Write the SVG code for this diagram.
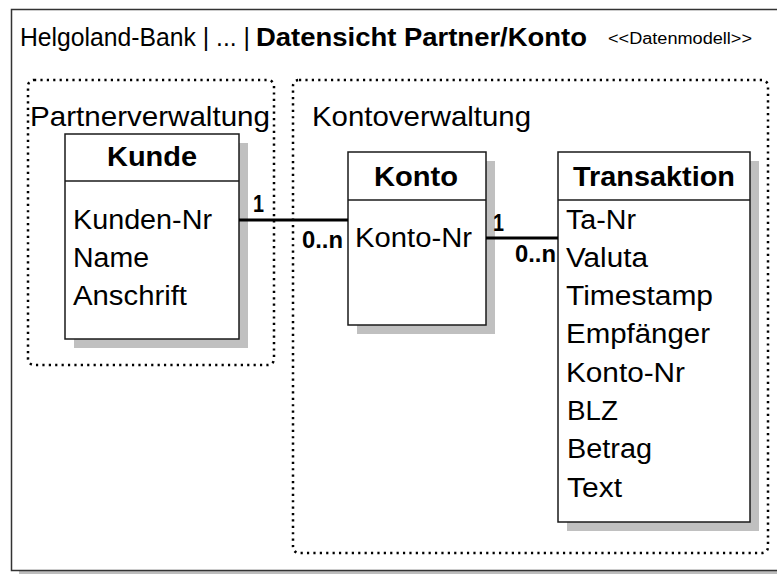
<svg xmlns="http://www.w3.org/2000/svg" width="777" height="574" viewBox="0 0 777 574">
<style>
text{font-family:"Liberation Sans",Arial,sans-serif;fill:#000}
.box{fill:#fff;stroke:#1a1a1a;stroke-width:1.5}
.shadow{fill:#c0c0c0}
.div{stroke:#1a1a1a;stroke-width:1.5}
.group{fill:none;stroke:#000;stroke-width:2.5;stroke-dasharray:2.2 4.2}
.ent{font-size:28px;font-weight:bold}
.attr{font-size:27px}
.card{font-size:23px;font-weight:bold}
.conn{stroke:#000;stroke-width:3}
</style>
<rect x="0" y="0" width="777" height="574" fill="#fff"/>
<g id="frame">
<rect x="19" y="571" width="770" height="4" fill="#bdbdbd"/>
<rect x="11.5" y="9.5" width="800" height="561" fill="#fff" stroke="#333" stroke-width="1.5"/>
<text x="20" y="46" font-size="25" textLength="230" lengthAdjust="spacingAndGlyphs">Helgoland-Bank | ... |</text>
<text x="256" y="46" font-size="26" font-weight="bold" textLength="331" lengthAdjust="spacingAndGlyphs">Datensicht Partner/Konto</text>
<text x="608" y="44" font-size="16" textLength="144" lengthAdjust="spacingAndGlyphs">&lt;&lt;Datenmodell&gt;&gt;</text>
</g>
<g id="partnerverwaltung">
<rect class="group" x="28" y="80" width="246" height="285" rx="6"/>
<text x="30" y="126" font-size="28" textLength="240" lengthAdjust="spacingAndGlyphs">Partnerverwaltung</text>
</g>
<g id="kontoverwaltung">
<rect class="group" x="293" y="80" width="475" height="473" rx="6"/>
<text x="312" y="126" font-size="28" textLength="219" lengthAdjust="spacingAndGlyphs">Kontoverwaltung</text>
</g>
<g id="kunde">
<rect class="shadow" x="74" y="143" width="174" height="205"/>
<rect class="box" x="65" y="134" width="174" height="205"/>
<line class="div" x1="65" y1="181" x2="239" y2="181"/>
<text class="ent" x="107" y="166" textLength="90" lengthAdjust="spacingAndGlyphs">Kunde</text>
<text class="attr" x="73" y="229" textLength="139" lengthAdjust="spacingAndGlyphs">Kunden-Nr</text>
<text class="attr" x="73" y="267" textLength="76" lengthAdjust="spacingAndGlyphs">Name</text>
<text class="attr" x="73" y="305" textLength="114" lengthAdjust="spacingAndGlyphs">Anschrift</text>
</g>
<g id="konto">
<rect class="shadow" x="357" y="161" width="138" height="173"/>
<rect class="box" x="348" y="152" width="138" height="173"/>
<line class="div" x1="348" y1="200" x2="486" y2="200"/>
<text class="ent" x="374" y="186" textLength="84" lengthAdjust="spacingAndGlyphs">Konto</text>
<text class="attr" x="355" y="247" textLength="117" lengthAdjust="spacingAndGlyphs">Konto-Nr</text>
</g>
<g id="transaktion">
<rect class="shadow" x="567" y="161" width="192" height="370"/>
<rect class="box" x="558" y="152" width="192" height="370"/>
<line class="div" x1="558" y1="200" x2="750" y2="200"/>
<text class="ent" x="573" y="186" textLength="162" lengthAdjust="spacingAndGlyphs">Transaktion</text>
<text class="attr" x="566" y="229" textLength="70" lengthAdjust="spacingAndGlyphs">Ta-Nr</text>
<text class="attr" x="566" y="267" textLength="82" lengthAdjust="spacingAndGlyphs">Valuta</text>
<text class="attr" x="566" y="305" textLength="147" lengthAdjust="spacingAndGlyphs">Timestamp</text>
<text class="attr" x="566" y="343" textLength="144" lengthAdjust="spacingAndGlyphs">Empfänger</text>
<text class="attr" x="566" y="382" textLength="119" lengthAdjust="spacingAndGlyphs">Konto-Nr</text>
<text class="attr" x="567" y="420" textLength="51" lengthAdjust="spacingAndGlyphs">BLZ</text>
<text class="attr" x="567" y="458" textLength="85" lengthAdjust="spacingAndGlyphs">Betrag</text>
<text class="attr" x="567" y="497" textLength="55" lengthAdjust="spacingAndGlyphs">Text</text>
</g>
<g id="connectors">
<line class="conn" x1="239" y1="220" x2="348" y2="220"/>
<text class="card" x="253" y="212" textLength="11" lengthAdjust="spacingAndGlyphs">1</text>
<text class="card" x="302" y="248" textLength="41" lengthAdjust="spacingAndGlyphs">0..n</text>
<line class="conn" x1="486" y1="238" x2="558" y2="238"/>
<text class="card" x="493" y="231" textLength="11" lengthAdjust="spacingAndGlyphs">1</text>
<text class="card" x="515" y="262" textLength="41" lengthAdjust="spacingAndGlyphs">0..n</text>
</g>
</svg>
